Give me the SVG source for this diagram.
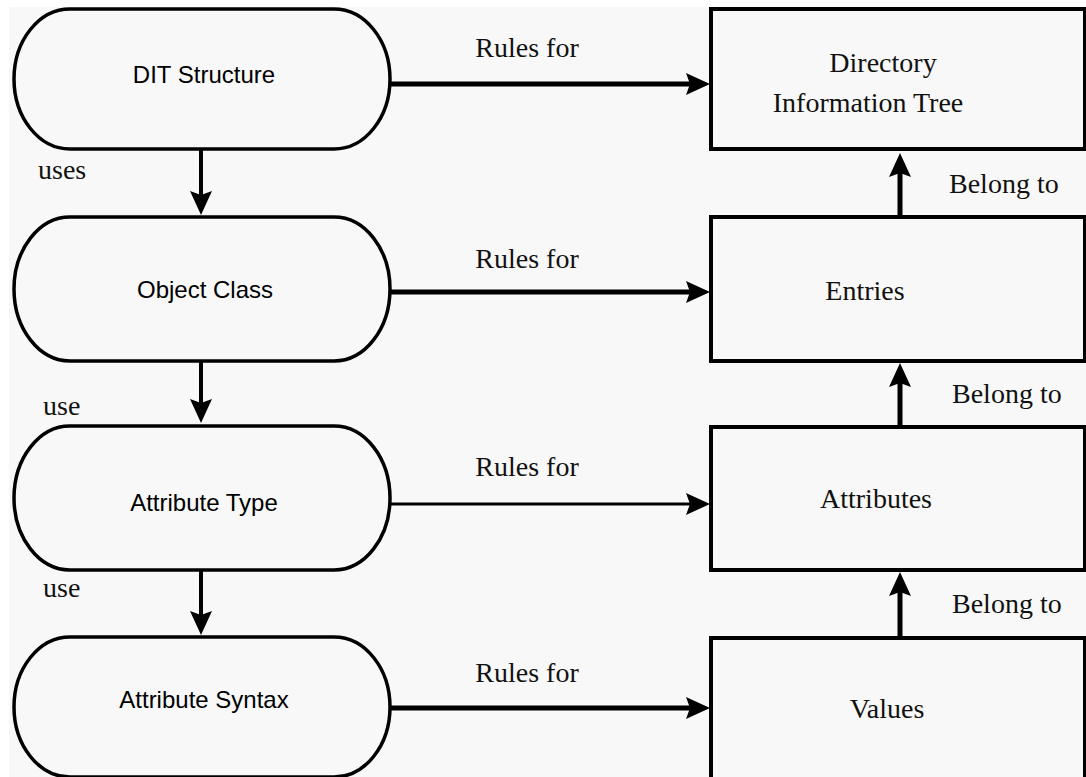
<svg xmlns="http://www.w3.org/2000/svg" width="1086" height="777" viewBox="0 0 1086 777">
<defs>
<style>
.bg{fill:#f8f8f8}
.stad{fill:#f8f8f8;stroke:#000;stroke-width:3.5}
.box{fill:#f8f8f8;stroke:#000;stroke-width:4}
.sans{font-family:"Liberation Sans",Arial,sans-serif;font-size:24px;fill:#000;text-anchor:middle}
.serif{font-family:"Liberation Serif","Times New Roman",serif;font-size:28px;fill:#111}
.mid{text-anchor:middle}
.edge{fill:none;stroke:#000}
</style>
<marker id="ah" markerUnits="userSpaceOnUse" markerWidth="24" markerHeight="22" refX="4" refY="11" orient="auto" viewBox="0 0 24 22">
<path d="M0,0 L24,11 L0,22 L4,11 z" fill="#000"/>
</marker>
</defs>
<rect width="1086" height="777" fill="#fff"/>
<rect class="bg" x="9" y="7" width="1077" height="770"/>

<g id="connectors">
<path class="edge" stroke-width="5" d="M390,84 H690" marker-end="url(#ah)"/>
<path class="edge" stroke-width="5" d="M390,292 H690" marker-end="url(#ah)"/>
<path class="edge" stroke-width="3" d="M390,504 H690" marker-end="url(#ah)"/>
<path class="edge" stroke-width="5" d="M390,708 H690" marker-end="url(#ah)"/>
<path class="edge" stroke-width="4" d="M201,149 V195" marker-end="url(#ah)"/>
<path class="edge" stroke-width="4" d="M201,361 V403" marker-end="url(#ah)"/>
<path class="edge" stroke-width="4" d="M201,570 V615" marker-end="url(#ah)"/>
<path class="edge" stroke-width="5" d="M900,217 V173" marker-end="url(#ah)"/>
<path class="edge" stroke-width="5" d="M900,427 V383" marker-end="url(#ah)"/>
<path class="edge" stroke-width="5" d="M900,638 V592" marker-end="url(#ah)"/>
<text class="serif mid" x="527" y="57">Rules for</text>
<text class="serif mid" x="527" y="268">Rules for</text>
<text class="serif mid" x="527" y="476">Rules for</text>
<text class="serif mid" x="527" y="682">Rules for</text>
<text class="serif" x="38" y="179">uses</text>
<text class="serif" x="43" y="415">use</text>
<text class="serif" x="43" y="597">use</text>
<text class="serif" x="949" y="193">Belong to</text>
<text class="serif" x="952" y="403">Belong to</text>
<text class="serif" x="952" y="613">Belong to</text>
</g>

<g id="dit-structure">
<path class="stad" d="M70,9 H334 A56,70 0 0 1 334,149 H70 A56,70 0 0 1 70,9 Z"/>
<text class="sans" x="204" y="83">DIT Structure</text>
</g>
<g id="object-class">
<path class="stad" d="M70,217 H334 A56,72 0 0 1 334,361 H70 A56,72 0 0 1 70,217 Z"/>
<text class="sans" x="205" y="298">Object Class</text>
</g>
<g id="attribute-type">
<path class="stad" d="M70,426 H334 A56,72 0 0 1 334,570 H70 A56,72 0 0 1 70,426 Z"/>
<text class="sans" x="204" y="511">Attribute Type</text>
</g>
<g id="attribute-syntax">
<path class="stad" d="M70,637 H334 A56,70 0 0 1 334,777 H70 A56,70 0 0 1 70,637 Z"/>
<text class="sans" x="204" y="708">Attribute Syntax</text>
</g>

<g id="dit">
<rect class="box" x="711" y="9" width="374" height="140"/>
<text class="serif mid" x="883" y="72">Directory</text>
<text class="serif mid" x="868" y="112">Information Tree</text>
</g>
<g id="entries">
<rect class="box" x="711" y="217" width="374" height="144"/>
<text class="serif mid" x="865" y="300">Entries</text>
</g>
<g id="attributes">
<rect class="box" x="711" y="427" width="374" height="143"/>
<text class="serif mid" x="876" y="508">Attributes</text>
</g>
<g id="values">
<rect class="box" x="711" y="638" width="374" height="145"/>
<text class="serif mid" x="887" y="718">Values</text>
</g>
</svg>
